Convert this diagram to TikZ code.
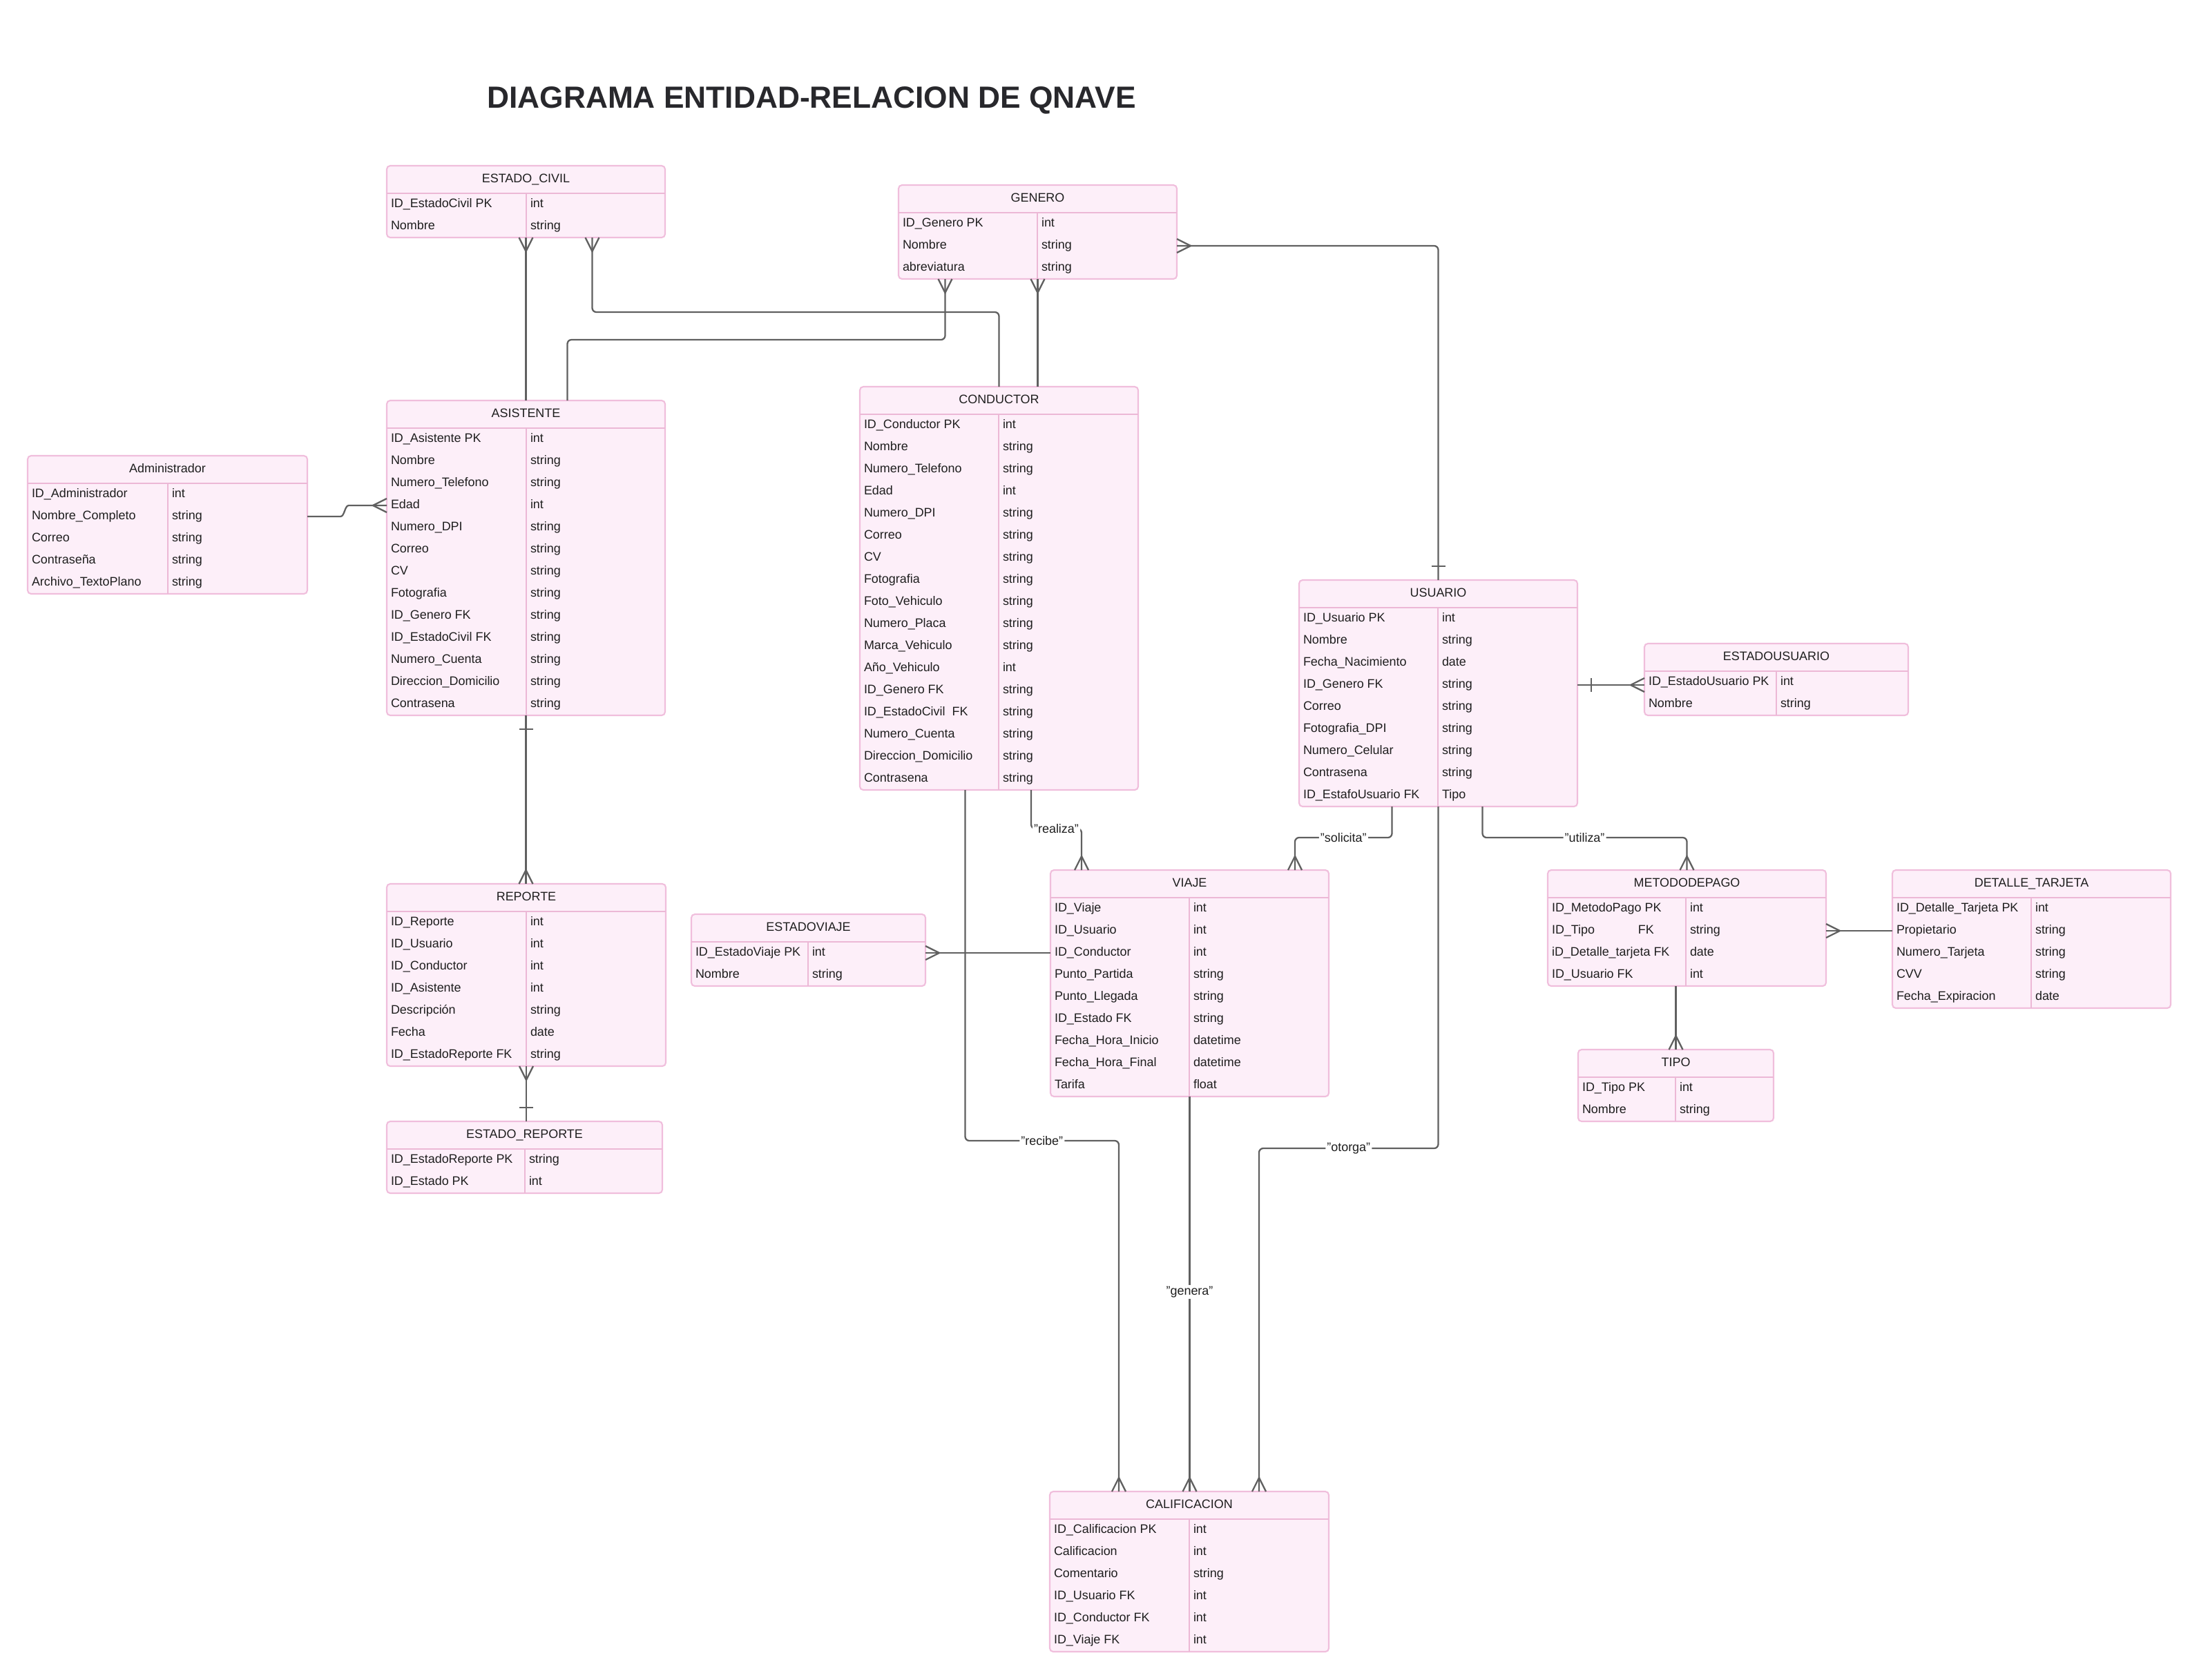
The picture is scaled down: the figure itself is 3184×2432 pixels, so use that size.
\documentclass[tikz,border=0pt]{standalone}
\usepackage{fontspec}
\setmainfont{Liberation Sans}
\usetikzlibrary{calc}
\definecolor{boxfill}{RGB}{253,239,249}
\definecolor{boxline}{RGB}{240,190,220}
\definecolor{sepcol}{RGB}{236,184,214}
\definecolor{conncol}{RGB}{96,96,96}
\definecolor{txtcol}{RGB}{30,30,30}
\definecolor{titlecol}{RGB}{40,40,44}
\tikzset{
  tbox/.style={draw=boxline, fill=boxfill, line width=0.6pt, rounded corners=0.05cm, inner sep=0pt, outer sep=0pt, rectangle},
  sepline/.style={draw=sepcol, line width=0.7pt},
  divline/.style={draw=sepcol, line width=0.5pt},
  tcell/.style={inner sep=0pt, outer sep=0pt, font=\fontsize{5.1}{6}\selectfont, text=txtcol},
  conn/.style={draw=conncol, line width=0.65pt},
  rc/.style={rounded corners=0.06cm},
  lbl/.style={fill=white, inner sep=0.6pt, font=\fontsize{5.1}{6}\selectfont, text=txtcol},
}
% name, x, y, width, divider offset, rows, title, row list
\newcommand\ertab[8]{%
  \pgfmathsetmacro\tabh{40+32*#6}%
  \node[tbox, anchor=north west, minimum width=#4*0.01cm, minimum height=\tabh*0.01cm] (#1) at (#2,#3) {};
  \draw[sepline] (#2,#3+40) -- (#2+#4,#3+40);
  \draw[divline] (#2+#5,#3+40) -- (#2+#5,#3+\tabh);
  \node[tcell, anchor=base] (#1-t) at (#2+#4/2,#3+24.5) {#7};
  \foreach \nm/\ty [count=\i] in {#8} {
    \node[tcell, anchor=base west] (#1-n\i) at (#2+6, #3+40+32*\i-11.5) {\nm};
    \node[tcell, anchor=base west] (#1-y\i) at (#2+#5+6, #3+40+32*\i-11.5) {\ty};
  }%
}
\newcommand\crowS[1]{\draw[conn] ($(#1)+(-10,0)$) -- ($(#1)+(0,20)$) -- ($(#1)+(10,0)$);}
\newcommand\crowN[1]{\draw[conn] ($(#1)+(-10,0)$) -- ($(#1)+(0,-20)$) -- ($(#1)+(10,0)$);}
\newcommand\crowE[1]{\draw[conn] ($(#1)+(0,-10)$) -- ($(#1)+(20,0)$) -- ($(#1)+(0,10)$);}
\newcommand\crowW[1]{\draw[conn] ($(#1)+(0,-10)$) -- ($(#1)+(-20,0)$) -- ($(#1)+(0,10)$);}
\newcommand\barS[1]{\draw[conn] ($(#1)+(-10,20)$) -- ($(#1)+(10,20)$);}
\newcommand\barN[1]{\draw[conn] ($(#1)+(-10,-20)$) -- ($(#1)+(10,-20)$);}
\newcommand\barE[1]{\draw[conn] ($(#1)+(20,-10)$) -- ($(#1)+(20,10)$);}
\begin{document}
\begin{tikzpicture}[x=0.01cm, y=-0.01cm]
\fill[white] (0,0) rectangle (3184,2432);
\useasboundingbox (0,0) rectangle (3184,2432);

\node[anchor=base, font=\bfseries\fontsize{12.6}{15}\selectfont, text=titlecol] (title) at (1175,156) {DIAGRAMA ENTIDAD-RELACION DE QNAVE};

\ertab{civil}{560}{240}{403}{202}{2}{ESTADO\_CIVIL}{ID\_EstadoCivil PK/int, Nombre/string}
\ertab{genero}{1301}{268}{403}{201}{3}{GENERO}{ID\_Genero PK/int, Nombre/string, abreviatura/string}
\ertab{asist}{560}{580}{403}{202}{13}{ASISTENTE}{ID\_Asistente PK/int, Nombre/string, Numero\_Telefono/string, Edad/int, Numero\_DPI/string, Correo/string, CV/string, Fotografia/string, ID\_Genero FK/string, ID\_EstadoCivil FK/string, Numero\_Cuenta/string, Direccion\_Domicilio/string, Contrasena/string}
\ertab{admin}{40}{660}{405}{203}{5}{Administrador}{ID\_Administrador/int, Nombre\_Completo/string, Correo/string, Contraseña/string, Archivo\_TextoPlano/string}
\ertab{cond}{1245}{560}{403}{201}{17}{CONDUCTOR}{ID\_Conductor PK/int, Nombre/string, Numero\_Telefono/string, Edad/int, Numero\_DPI/string, Correo/string, CV/string, Fotografia/string, Foto\_Vehiculo/string, Numero\_Placa/string, Marca\_Vehiculo/string, Año\_Vehiculo/int, ID\_Genero FK/string, ID\_EstadoCivil\ \ FK/string, Numero\_Cuenta/string, Direccion\_Domicilio/string, Contrasena/string}
\ertab{usuario}{1881}{840}{403}{201}{9}{USUARIO}{ID\_Usuario PK/int, Nombre/string, Fecha\_Nacimiento/date, ID\_Genero FK/string, Correo/string, Fotografia\_DPI/string, Numero\_Celular/string, Contrasena/string, ID\_EstafoUsuario FK/Tipo}
\ertab{estusu}{2381}{932}{382}{191}{2}{ESTADOUSUARIO}{ID\_EstadoUsuario PK/int, Nombre/string}
\ertab{viaje}{1521}{1260}{403}{201}{9}{VIAJE}{ID\_Viaje/int, ID\_Usuario/int, ID\_Conductor/int, Punto\_Partida/string, Punto\_Llegada/string, ID\_Estado FK/string, Fecha\_Hora\_Inicio/datetime, Fecha\_Hora\_Final/datetime, Tarifa/float}
\ertab{estviaje}{1001}{1324}{339}{169}{2}{ESTADOVIAJE}{ID\_EstadoViaje PK/int, Nombre/string}
\ertab{metodo}{2241}{1260}{403}{200}{4}{METODODEPAGO}{ID\_MetodoPago PK/int, ID\_Tipo\hspace{3.5em}FK/string, iD\_Detalle\_tarjeta FK/date, ID\_Usuario FK/int}
\ertab{detalle}{2740}{1260}{403}{201}{5}{DETALLE\_TARJETA}{ID\_Detalle\_Tarjeta PK/int, Propietario/string, Numero\_Tarjeta/string, CVV/string, Fecha\_Expiracion/date}
\ertab{tipo}{2285}{1520}{283}{141}{2}{TIPO}{ID\_Tipo PK/int, Nombre/string}
\ertab{reporte}{560}{1280}{404}{202}{7}{REPORTE}{ID\_Reporte/int, ID\_Usuario/int, ID\_Conductor/int, ID\_Asistente/int, Descripción/string, Fecha/date, ID\_EstadoReporte FK/string}
\ertab{estrep}{560}{1624}{399}{200}{2}{ESTADO\_REPORTE}{ID\_EstadoReporte PK/string, ID\_Estado PK/int}
\ertab{calif}{1520}{2160}{404}{202}{6}{CALIFICACION}{ID\_Calificacion PK/int, Calificacion/int, Comentario/string, ID\_Usuario FK/int, ID\_Conductor FK/int, ID\_Viaje FK/int}

% ESTADO_CIVIL - ASISTENTE
\draw[conn] (civil.south) -- (asist.north);
\crowS{civil.south}
% ESTADO_CIVIL - CONDUCTOR
\coordinate (c2a) at ($(civil.south)+(96,0)$);
\draw[conn, rc] (c2a) |- ($(cond.north)+(0,-108)$) -- (cond.north);
\crowS{c2a}
% GENERO - ASISTENTE
\coordinate (c3a) at ($(genero.south)+(-134,0)$);
\coordinate (c3b) at ($(asist.north)+(60,0)$);
\draw[conn, rc] (c3a) |- ($(c3b)+(0,-88)$) -- (c3b);
\crowS{c3a}
% GENERO - CONDUCTOR
\coordinate (c4b) at (genero.south |- cond.north);
\draw[conn] (genero.south) -- (c4b);
\crowS{genero.south}
% GENERO - USUARIO
\coordinate (c5a) at ($(genero.east)+(0,20)$);
\draw[conn, rc] (c5a) -| (usuario.north);
\crowE{c5a}
\barN{usuario.north}
% Administrador - ASISTENTE
\coordinate (c6a) at ($(admin.east)+(0,-12)$);
\coordinate (c6b) at ($(asist.west)+(0,-76)$);
\draw[conn] (c6a) -- ++(48,0) .. controls +(6,0) and +(-6,0) .. ++(12,-16) -- (c6b);
\crowW{c6b}
% ASISTENTE - REPORTE
\coordinate (c7b) at (asist.south |- reporte.north);
\draw[conn] (asist.south) -- (c7b);
\barS{asist.south}
\crowN{c7b}
% REPORTE - ESTADO_REPORTE
\coordinate (c8b) at (reporte.south |- estrep.north);
\draw[conn] (reporte.south) -- (c8b);
\crowS{reporte.south}
\barN{c8b}
% CONDUCTOR - CALIFICACION (recibe)
\coordinate (c9a) at ($(cond.south)+(-49,0)$);
\coordinate (c9b) at ($(calif.north)+(-102,0)$);
\draw[conn, rc] (c9a) |- node[lbl, pos=0.75] (l9) {"recibe"} ($(c9b)+(0,-508)$) -- (c9b);
\crowN{c9b}
% CONDUCTOR - VIAJE (realiza)
\coordinate (c10a) at ($(cond.south)+(46.5,0)$);
\coordinate (c10b) at ($(viaje.north)+(-156.5,0)$);
\draw[conn, rc] (c10a) |- node[lbl, pos=0.75] (l10) {"realiza"} ($(c10b)+(0,-60)$) -- (c10b);
\crowN{c10b}
% USUARIO - VIAJE (solicita)
\coordinate (c11a) at ($(usuario.south)+(-67,0)$);
\coordinate (c11b) at ($(viaje.north)+(152.5,0)$);
\draw[conn, rc] (c11a) |- node[lbl, pos=0.75] (l11) {"solicita"} ($(c11b)+(0,-47)$) -- (c11b);
\crowN{c11b}
% USUARIO - CALIFICACION (otorga)
\coordinate (c12b) at ($(calif.north)+(101,0)$);
\draw[conn, rc] (usuario.south) |- node[lbl, pos=0.75] (l12) {"otorga"} ($(c12b)+(0,-497)$) -- (c12b);
\crowN{c12b}
% USUARIO - METODODEPAGO (utiliza)
\coordinate (c13a) at ($(usuario.south)+(64,0)$);
\draw[conn, rc] (c13a) |- node[lbl, pos=0.75] (l13) {"utiliza"} ($(metodo.north)+(0,-47)$) -- (metodo.north);
\crowN{metodo.north}
% VIAJE - CALIFICACION (genera)
\coordinate (c14b) at (viaje.south |- calif.north);
\draw[conn] (viaje.south) -- node[lbl, pos=0.495] (l14) {"genera"} (c14b);
\crowN{c14b}
% ESTADOVIAJE - VIAJE
\coordinate (c15a) at ($(estviaje.east)+(0,4)$);
\coordinate (c15b) at (c15a -| viaje.west);
\draw[conn] (c15a) -- (c15b);
\crowE{c15a}
% USUARIO - ESTADOUSUARIO
\coordinate (c16a) at ($(usuario.east)+(0,-12)$);
\coordinate (c16b) at (c16a -| estusu.west);
\draw[conn] (c16a) -- (c16b);
\barE{c16a}
\crowW{c16b}
% METODODEPAGO - DETALLE_TARJETA
\coordinate (c17a) at ($(metodo.east)+(0,4)$);
\coordinate (c17b) at (c17a -| detalle.west);
\draw[conn] (c17a) -- (c17b);
\crowE{c17a}
% METODODEPAGO - TIPO
\coordinate (c18a) at (tipo.north |- metodo.south);
\draw[conn] (c18a) -- (tipo.north);
\crowN{tipo.north}
\end{tikzpicture}
\end{document}
